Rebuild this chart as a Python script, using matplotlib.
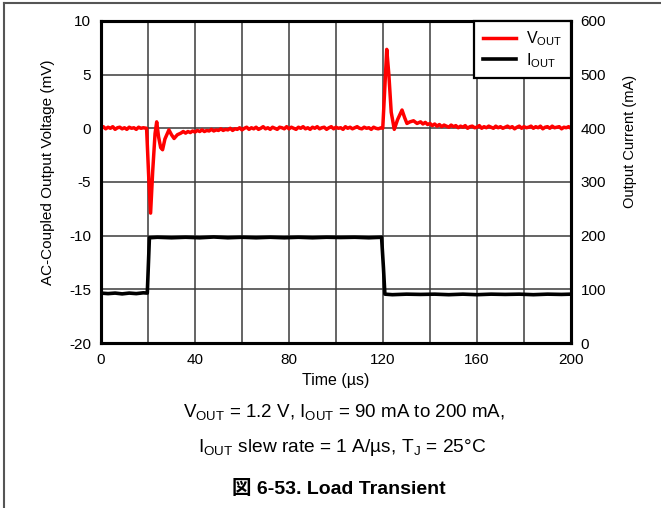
# Load transient: output voltage (AC coupled) and output current vs time

import matplotlib.pyplot as plt
from matplotlib.lines import Line2D

plt.rcParams['font.family'] = ['Liberation Sans', 'Noto Sans CJK JP', 'DejaVu Sans']
plt.rcParams['mathtext.fontset'] = 'custom'
plt.rcParams['mathtext.rm'] = 'Liberation Sans'
plt.rcParams['axes.unicode_minus'] = False

# V_OUT trace (time in us, voltage in mV)
t_vout = [0, 1, 2, 3, 4, 5, 6, 7, 8, 9, 10, 11, 12, 13, 14, 15, 16, 17, 18, 19.4,
          20.3, 21.1, 22.0, 23.0, 23.7, 24.5, 25.4, 26.2, 27.2, 28.9, 30.0, 31.1, 32.5,
          34, 35, 36, 37, 38, 39, 40, 41, 42, 43, 44, 45, 46, 47, 48, 49, 50, 51, 52, 53, 54, 55, 56,
          57, 58, 59, 60, 61, 62, 63, 64, 65, 66, 67, 68, 69, 70, 71, 72, 73, 74, 75, 76, 77, 78, 79,
          80, 81, 82, 83, 84, 85, 86, 87, 88, 89, 90, 91, 92, 93, 94, 95, 96, 97, 98, 99,
          100, 101, 102, 103, 104, 105, 106, 107, 108, 109, 110, 111, 112, 113, 114, 115,
          116, 117, 118, 119.2, 119.9,
          120.8, 121.6, 122.5, 123.5, 124.8, 126.2, 128.1, 129.2, 130.2, 131.5, 133,
          134.5, 136, 137, 138, 139, 140, 141, 142, 143, 144, 145, 146, 147, 148, 149, 150,
          151, 152, 153, 154, 155, 156, 157, 158, 159, 160, 161, 162, 163, 164, 165, 166, 167,
          168, 169, 170, 171, 172, 173, 174, 175, 176, 177, 178, 179, 180, 181, 182, 183, 184,
          185, 186, 187, 188, 189, 190, 191, 192, 193, 194, 195, 196, 197, 198, 199, 200]
v_out = [0.0, 0.15, -0.05, 0.1, 0.0, 0.15, -0.1, 0.05, 0.1, -0.05, 0.05, -0.1, 0.1, 0.0, 0.05, -0.1, 0.1, 0.0, 0.05, 0.0,
         -4.5, -7.9, -4.0, -0.5, 0.6, -0.8, -1.8, -2.0, -1.0, -0.15, -0.6, -0.95, -0.6,
         -0.45, -0.3, -0.45, -0.3, -0.4, -0.25, -0.35, -0.2, -0.3, -0.15, -0.3, -0.2, -0.25, -0.1, -0.25, -0.15, -0.2,
         -0.05, -0.2, -0.1, -0.15, 0.0, -0.2,
         -0.05, -0.1, 0.05, -0.15, 0.0, 0.1, -0.1, 0.05, -0.05, 0.1, -0.1, 0.0, 0.15, -0.05, 0.05, -0.1, 0.1, 0.0, -0.1,
         0.1, 0.05, -0.05, 0.15,
         -0.05, 0.1, 0.0, -0.1, 0.1, 0.0, 0.15, -0.05, 0.05, -0.1, 0.1, 0.0, 0.15, -0.05, 0.05, 0.1, -0.1, 0.05, 0.15,
         -0.05, 0.1, 0.0, 0.05, -0.1, 0.15, 0.0, 0.1, -0.05, 0.05, 0.15, 0.0, -0.05, 0.1, 0.0, 0.05, -0.1,
         0.1, 0.0, -0.05, 0.05, 0.0,
         4.0, 7.35, 5.0, 1.5, -0.1, 0.8, 1.7, 1.0, 0.45, 0.6, 0.7,
         0.45, 0.6, 0.4, 0.55, 0.35, 0.45, 0.25, 0.4, 0.2, 0.35, 0.15, 0.3, 0.2, 0.1, 0.3, 0.15,
         0.25, 0.05, 0.2, 0.1, 0.25, 0.0, 0.15, 0.2, 0.05, 0.1, 0.25, 0.0, 0.15, 0.05, 0.2, 0.1, 0.0,
         0.2, 0.05, 0.15, 0.0, 0.1, 0.2, 0.05, 0.15, -0.05, 0.1, 0.2, 0.0, 0.15, 0.05, 0.1, 0.2, 0.0,
         0.15, 0.05, 0.2, -0.05, 0.1, 0.15, 0.0, 0.2, 0.05, 0.1, 0.15, -0.05, 0.1, 0.05, 0.15, 0.0]

# I_OUT trace (time in us, current in mA)
t_iout = [0, 3, 6, 9, 12, 15, 18, 19.7, 20.2, 20.6, 24, 30, 36, 42, 48, 54, 60, 66, 72, 78,
          84, 90, 96, 102, 108, 114, 119.4, 120.2, 120.8, 124, 130, 136, 142, 148, 154,
          160, 166, 172, 178, 184, 190, 196, 200]
i_out = [93, 92, 93, 91.5, 93, 92, 93.5, 93, 150, 196, 197, 196, 197, 196, 197.5, 196, 197, 196, 197, 196,
         197, 196, 197, 196.5, 197, 196, 197, 140, 91, 90, 91, 90.5, 91, 90, 91,
         90, 91, 90.5, 91, 90, 91, 90.5, 91]

x_ticks = [0, 40, 80, 120, 160, 200]
v_ticks = [-20, -15, -10, -5, 0, 5, 10]
i_ticks = [0, 100, 200, 300, 400, 500, 600]

fig = plt.figure(figsize=(6.61, 5.08), dpi=100)
ax = fig.add_axes([0.1528, 0.3248, 0.711, 0.634])
ax2 = ax.twinx()

ax.set_xlim(0, 200)
ax.set_ylim(-20, 10)
ax2.set_ylim(0, 600)

ax.set_xticks(range(0, 201, 20))
ax.set_xticklabels([str(t) if t in x_ticks else '' for t in range(0, 201, 20)])
ax.set_yticks(v_ticks)
ax2.set_yticks(i_ticks)
ax.grid(True, color='#3a3a3a', lw=1.1)
ax.set_axisbelow(True)

for a in (ax, ax2):
    a.tick_params(length=0, pad=7, labelsize=11)
    for s in a.spines.values():
        s.set_linewidth(2.2)

l1, = ax.plot(t_vout, v_out, color='red', lw=2.5, zorder=3)
l2, = ax2.plot(t_iout, i_out, color='black', lw=2.6, zorder=3)

ax.set_xlabel('Time (µs)', fontsize=11.5)
ax.xaxis.set_label_coords(0.5, -0.094)
ax.set_ylabel('AC-Coupled Output Voltage (mV)', fontsize=11)
ax.yaxis.set_label_coords(-0.098, 0.53)
ax2.set_ylabel('Output Current (mA)', fontsize=10.5)
ax2.yaxis.set_label_coords(1.111, 0.625)

leg = ax2.legend([l1, l2], [r'V$_{\mathregular{OUT}}$', r'I$_{\mathregular{OUT}}$'],
                 loc='upper right', borderaxespad=0, fancybox=False, fontsize=11.5,
                 handlelength=2.1, framealpha=1, borderpad=0.55, labelspacing=0.15,
                 handletextpad=0.6)
leg.get_frame().set_edgecolor('black')
leg.get_frame().set_linewidth(1.6)

fig.text(0.52, 0.187, r'V$_{\mathregular{OUT}}$ = 1.2 V, I$_{\mathregular{OUT}}$ = 90 mA to 200 mA,',
         ha='center', va='center', fontsize=13.5)
fig.text(0.518, 0.120, r'I$_{\mathregular{OUT}}$ slew rate = 1 A/µs, T$_{\mathregular{J}}$ = 25°C',
         ha='center', va='center', fontsize=13.8)
fig.text(0.512, 0.037, '図 6-53. Load Transient', ha='center', va='center',
         fontsize=14, fontweight='bold')

# page frame lines (top and left)
fig.add_artist(Line2D([4 / 661, 1], [1 - 3 / 508, 1 - 3 / 508], color='#555555', lw=1.5))
fig.add_artist(Line2D([4 / 661, 4 / 661], [0, 1 - 3 / 508], color='#555555', lw=1.5))

fig.savefig('out.png', dpi=100)
